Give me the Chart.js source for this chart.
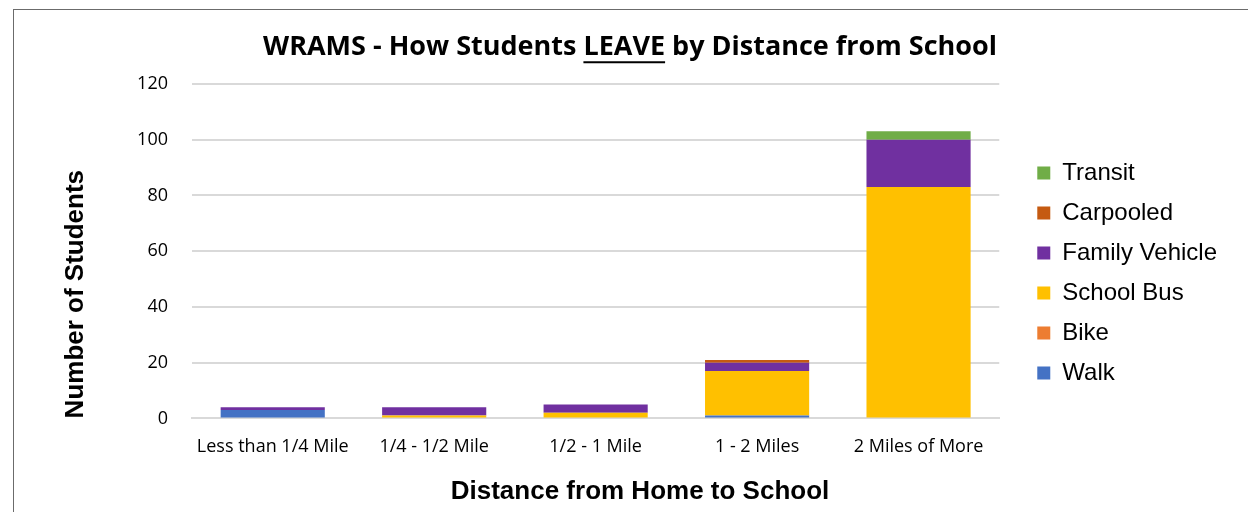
<!DOCTYPE html>
<html>
<head>
<meta charset="utf-8">
<script src="https://cdn.jsdelivr.net/npm/chart.js@4.4.0/dist/chart.umd.min.js"></script>
<style>
  html, body { margin: 0; padding: 0; background: #fff; overflow: hidden; }
  #frame { position: absolute; left: 13px; top: 9px; width: 1400px; height: 700px; border: 1px solid #6b6b6b; }
  #wrap { position: absolute; left: 0; top: 0; width: 1248px; height: 512px; }
</style>
</head>
<body>
<div id="frame"></div>
<div id="wrap"><canvas id="graph-leave" width="1248" height="512"></canvas></div>
<script>
'use strict';

// Catégories et séries
const distances = ['Less than 1/4 Mile', '1/4 - 1/2 Mile', '1/2 - 1 Mile', '1 - 2 Miles', '2 Miles of More'];
const walk          = [3, 0, 0, 1, 0];
const bike          = [0, 0, 0, 0, 0];
const schoolBus     = [0, 1, 2, 16, 83];
const familyVehicle = [1, 3, 3, 3, 17];
const carpooled     = [0, 0, 0, 1, 0];
const transit       = [0, 0, 0, 0, 3];
const yTicks = [0, 20, 40, 60, 80, 100, 120];

const titleText = 'WRAMS - How Students LEAVE by Distance from School';
const titleFont = 'bold 27px "Open Sans"';
const xTitleText = 'Distance from Home to School';

// Souligne LEAVE, décale la légende et dessine le titre de l'axe X (centré sur toute la zone)
const decorPlugin = {
    id: 'decor',
    afterLayout(chart) {
        const lg = chart.legend;
        lg.left += 22; lg.right += 22;
        lg.top += 29; lg.bottom += 29;
    },
    afterDraw(chart) {
        const tb = chart.titleBlock;
        if (!tb) return;
        const ctx = chart.ctx;
        ctx.save();
        ctx.font = titleFont;
        const full = ctx.measureText(titleText).width;
        const before = ctx.measureText('WRAMS - How Students ').width;
        const word = ctx.measureText('LEAVE').width;
        const cx = (tb.left + tb.right) / 2;
        const x0 = cx - full / 2 + before;
        const y = tb.top + 11 + 16.2 + 15;
        ctx.strokeStyle = '#000';
        ctx.lineWidth = 2;
        ctx.beginPath();
        ctx.moveTo(x0, y);
        ctx.lineTo(x0 + word, y);
        ctx.stroke();

        ctx.font = 'bold 26px "Liberation Sans"';
        ctx.fillStyle = '#000';
        ctx.textAlign = 'center';
        ctx.textBaseline = 'middle';
        ctx.fillText(xTitleText, 640, chart.height - 20.6);
        ctx.restore();
    }
};

const ctx = document.getElementById('graph-leave').getContext('2d');
new Chart(ctx, {
    type: 'bar',
    data: {
        labels: distances,
        datasets: [
            { label: 'Walk', data: walk, backgroundColor: '#4472c4' },
            { label: 'Bike', data: bike, backgroundColor: '#ed7d31' },
            { label: 'School Bus', data: schoolBus, backgroundColor: '#ffc000' },
            { label: 'Family Vehicle', data: familyVehicle, backgroundColor: '#7030a0' },
            { label: 'Carpooled', data: carpooled, backgroundColor: '#c55a11' },
            { label: 'Transit', data: transit, backgroundColor: '#70ad47' }
        ]
    },
    options: {
        responsive: false,
        animation: false,
        devicePixelRatio: 1,
        layout: { padding: { left: 55, right: 43, top: 20, bottom: 44 } },
        datasets: { bar: { categoryPercentage: 0.645, barPercentage: 1, borderWidth: 0 } },
        plugins: {
            title: {
                display: true,
                text: titleText,
                color: '#000',
                font: { family: '"Open Sans"', size: 27, weight: 'bold' },
                padding: { top: 11, bottom: 20.6 }
            },
            legend: {
                position: 'right',
                reverse: true,
                labels: {
                    color: '#000',
                    font: { family: '"Liberation Sans"', size: 24 },
                    boxWidth: 13,
                    boxHeight: 13,
                    padding: 16
                }
            },
            tooltip: { enabled: false }
        },
        scales: {
            x: {
                stacked: true,
                grid: { display: false },
                border: { color: '#d9d9d9', width: 2 },
                ticks: { color: '#000', font: { family: '"Open Sans"', size: 18 }, maxRotation: 0, padding: 10 }
            },
            y: {
                stacked: true,
                min: 0,
                max: 120,
                afterBuildTicks: s => { s.ticks = yTicks.map(v => ({ value: v })); },
                afterFit: s => { s.width = 137; },
                grid: { color: '#d9d9d9', lineWidth: 2, drawTicks: false },
                border: { display: false },
                ticks: { color: '#000', font: { family: '"Open Sans"', size: 18 }, padding: 24 },
                title: {
                    display: true,
                    align: 'start',
                    text: 'Number of Students',
                    color: '#000',
                    font: { family: '"Liberation Sans"', size: 26, weight: 'bold' },
                    padding: { top: 5, bottom: 0 }
                }
            }
        }
    },
    plugins: [decorPlugin]
});
</script>
</body>
</html>
